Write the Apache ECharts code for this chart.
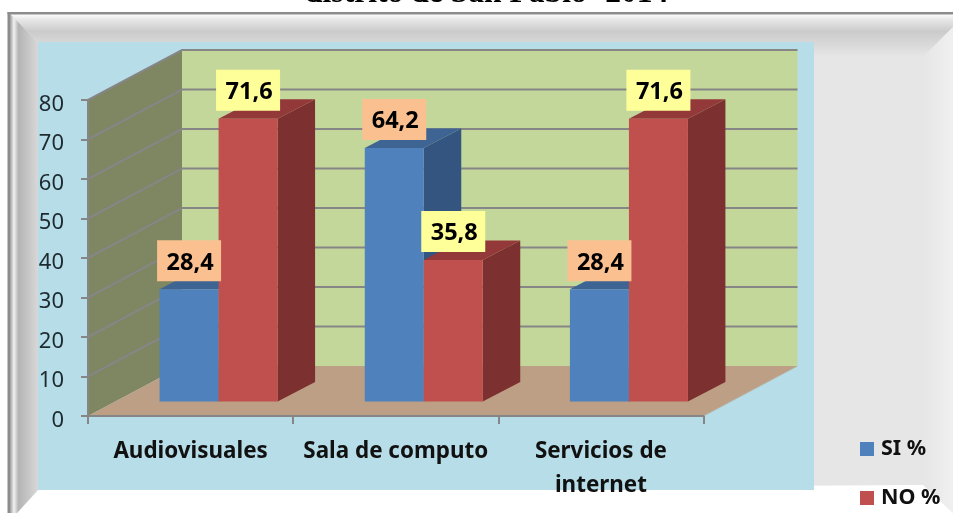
<!DOCTYPE html>
<html>
<head>
<meta charset="utf-8">
<title>distrito de San Pablo -2014</title>
<script src="https://cdn.jsdelivr.net/npm/echarts@6/dist/echarts.min.js"></script>
<style>
  html, body { margin: 0; padding: 0; background: #fff; }
  #chart { width: 953px; height: 513px; }
</style>
</head>
<body>
<div id="chart"></div>
<script>
var titleText = 'distrito de San Pablo -2014';
var categories = ['Audiovisuales', 'Sala de computo', 'Servicios de\ninternet'];
var siValues = [28.4, 64.2, 28.4];
var noValues = [71.6, 35.8, 71.6];
var yTicks = [0, 10, 20, 30, 40, 50, 60, 70, 80];

// fake 3d: how far the walls and bars are pushed back, in pixels
var wallDx = 94, wallDy = 50;
var barFrontDx = 28, barFrontDy = 14.5;
var barDx = 37.5, barDy = 19.5;
var barWidth = 59;
var labelW = 64, labelH = 41;

var lineGray = '#868686';

function poly(points, fill, z2) {
  return { type: 'polygon', shape: { points: points }, style: { fill: fill, stroke: null }, z2: z2 || 0 };
}

function renderWalls(params, api) {
  var band = api.size([1, 0])[0];
  var x0 = api.coord([0, 0])[0] - band / 2;
  var x1 = api.coord([categories.length - 1, 0])[0] + band / 2;
  var y0 = api.coord([0, 0])[1];
  var yTop = api.coord([0, 80])[1];
  var children = [
    poly([[x0, y0], [x0 + wallDx, y0 - wallDy], [x0 + wallDx, yTop - wallDy], [x0, yTop]], '#7e8662'),
    poly([[x0 + wallDx, y0 - wallDy], [x1 + wallDx, y0 - wallDy], [x1 + wallDx, yTop - wallDy], [x0 + wallDx, yTop - wallDy]], '#c4d79b'),
    poly([[x0, y0], [x1, y0], [x1 + wallDx, y0 - wallDy], [x0 + wallDx, y0 - wallDy]], '#bc9f85')
  ];
  yTicks.forEach(function (t) {
    var y = api.coord([0, t])[1];
    if (t === 0) {
      children.push({
        type: 'polyline',
        shape: { points: [[x1, y], [x1 + wallDx, y - wallDy]] },
        style: { fill: null, stroke: '#b5b5a8', lineWidth: 1 }
      });
      return;
    }
    children.push({
      type: 'polyline',
      shape: { points: [[x0, y], [x0 + wallDx, y - wallDy], [x1 + wallDx, y - wallDy]] },
      style: { fill: null, stroke: lineGray, lineWidth: 2 }
    });
  });
  return { type: 'group', children: children };
}

function makeBarRenderer(shift, front, top, side, labelBg) {
  return function (params, api) {
    var i = api.value(0), v = api.value(1);
    var base = api.coord([i, 0]);
    var head = api.coord([i, v]);
    var xl = base[0] + barFrontDx + shift * barWidth;
    var xr = xl + barWidth;
    var yb = base[1] - barFrontDy;
    var yt = head[1] - barFrontDy;
    var cx = (xl + xr) / 2;
    var labelBottom = yt - 8;
    return {
      type: 'group',
      children: [
        poly([[xr, yb], [xr + barDx, yb - barDy], [xr + barDx, yt - barDy], [xr, yt]], side),
        poly([[xl, yt], [xr, yt], [xr + barDx, yt - barDy], [xl + barDx, yt - barDy]], top),
        poly([[xl, yb], [xr, yb], [xr, yt], [xl, yt]], front),
        {
          type: 'rect',
          shape: { x: cx - labelW / 2, y: labelBottom - labelH, width: labelW, height: labelH },
          style: { fill: labelBg },
          z2: 50
        },
        {
          type: 'text',
          x: cx + 1,
          y: labelBottom - labelH / 2 + 2,
          style: {
            text: String(v).replace('.', ','),
            fill: '#000',
            font: 'bold 23.5px "Noto Sans"',
            align: 'center',
            verticalAlign: 'middle'
          },
          z2: 51
        }
      ]
    };
  };
}

function toPoints(values) {
  return values.map(function (v, i) { return [i, v]; });
}

var chart = echarts.init(document.getElementById('chart'), null, { renderer: 'canvas' });

chart.setOption({
  animation: false,
  backgroundColor: '#fff',
  title: {
    text: titleText,
    left: 305,
    top: -22,
    padding: 0,
    textStyle: { fontFamily: 'Liberation Serif', fontWeight: 'bold', fontSize: 31.6, color: '#000' }
  },
  grid: { left: 88, top: 100, width: 615.5, height: 316, containLabel: false },
  legend: {
    data: ['SI %', 'NO %'],
    orient: 'vertical',
    left: 860,
    top: 438,
    padding: 0,
    itemWidth: 14,
    itemHeight: 14,
    itemGap: 27,
    icon: 'rect',
    selectedMode: false,
    textStyle: { fontFamily: 'Noto Sans', fontWeight: 'bold', fontSize: 21.5, lineHeight: 22, color: '#111', padding: [0, 0, 0, 2] }
  },
  xAxis: {
    type: 'category',
    data: categories,
    z: 3,
    axisLine: { lineStyle: { color: lineGray, width: 2 } },
    axisTick: { show: true, length: 8, alignWithLabel: false, lineStyle: { color: lineGray, width: 2 } },
    axisLabel: {
      interval: 0,
      margin: 19,
      lineHeight: 34,
      fontFamily: 'Noto Sans',
      fontWeight: 'bold',
      fontSize: 22.4,
      color: '#111'
    },
    splitLine: { show: false }
  },
  yAxis: {
    type: 'value',
    min: 0,
    max: 80,
    interval: 10,
    z: 3,
    axisLine: { show: true, lineStyle: { color: lineGray, width: 2 } },
    axisTick: { show: true, length: 7, lineStyle: { color: lineGray, width: 2 } },
    axisLabel: {
      margin: 24,
      verticalAlign: 'top',
      lineHeight: 9,
      fontFamily: 'Noto Sans',
      fontSize: 22,
      color: '#1d2b30'
    },
    splitLine: { show: false }
  },
  graphic: [
    // frame around the picture, top and left bevels
    { type: 'rect', shape: { x: 9, y: 13, width: 944, height: 500 }, style: { fill: '#e6e6e6' } },
    {
      type: 'polygon',
      shape: { points: [[10, 14], [953, 14], [953, 27], [923, 57], [38, 57], [38, 42]] },
      style: {
        fill: new echarts.graphic.LinearGradient(0, 0, 0, 1, [
          { offset: 0, color: '#ffffff' },
          { offset: 0.12, color: '#e8e8e8' },
          { offset: 0.4, color: '#cbcbcb' },
          { offset: 1, color: '#e6e6e6' }
        ])
      }
    },
    {
      type: 'polygon',
      shape: { points: [[953, 27], [953, 513], [923, 485], [923, 57]] },
      style: {
        fill: new echarts.graphic.LinearGradient(0, 0, 1, 0, [
          { offset: 0, color: '#e6e6e6' },
          { offset: 1, color: '#f0f0f0' }
        ])
      }
    },
    {
      type: 'polygon',
      shape: { points: [[17, 513], [38, 490], [923, 485], [953, 513]] },
      style: { fill: '#ffffff' }
    },
    {
      type: 'polygon',
      shape: { points: [[10, 14], [38, 42], [38, 490], [17, 513], [10, 513]] },
      style: {
        fill: new echarts.graphic.LinearGradient(0, 0, 1, 0, [
          { offset: 0, color: '#9c9c9c' },
          { offset: 0.14, color: '#f2f2f2' },
          { offset: 0.3, color: '#b4b4b4' },
          { offset: 1, color: '#d8d8d8' }
        ])
      }
    },
    { type: 'rect', shape: { x: 7.5, y: 12, width: 946, height: 2.5 }, style: { fill: '#8c8c8c' } },
    { type: 'rect', shape: { x: 7.5, y: 12, width: 2.5, height: 501 }, style: { fill: '#8c8c8c' } },
    // plot area
    { type: 'rect', shape: { x: 38, y: 42, width: 776, height: 448 }, style: { fill: '#b7dde8' } }
  ],
  series: [
    {
      type: 'custom',
      name: 'walls',
      silent: true,
      renderItem: renderWalls,
      clip: false,
      data: [[0, 0]],
      encode: { x: 0, y: 1 }
    },
    {
      type: 'custom',
      name: 'SI %',
      itemStyle: { color: '#4f81bd' },
      renderItem: makeBarRenderer(-1, '#4f81bd', '#3e6494', '#335580', '#fac090'),
      clip: false,
      data: toPoints(siValues),
      encode: { x: 0, y: 1 }
    },
    {
      type: 'custom',
      name: 'NO %',
      itemStyle: { color: '#c0504d' },
      renderItem: makeBarRenderer(0, '#c0504d', '#93393a', '#7d3030', '#ffff99'),
      clip: false,
      data: toPoints(noValues),
      encode: { x: 0, y: 1 }
    }
  ]
});
</script>
</body>
</html>
